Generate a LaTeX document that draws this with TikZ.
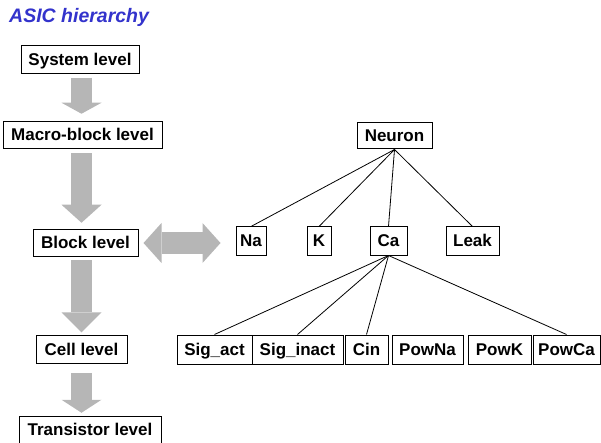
\documentclass[tikz,border=0pt]{standalone}
\usepackage{fontspec}
\setmainfont{Liberation Sans}
\usetikzlibrary{arrows.meta}
\definecolor{titleblue}{RGB}{51,51,204}
\definecolor{arrowgray}{RGB}{182,182,182}
\tikzstyle{box}=[draw
,line width=1pt
,inner sep=0pt
,text height=13.5pt
,text depth=2pt
,font=\fontsize{17}{20}\selectfont\bfseries
]
\tikzstyle{edge} = [draw,line width=0.8pt,-]
\tikzset{bigarrow/.style={draw=arrowgray, line width=21pt, -{Triangle[width=40pt,length=#1,line width=0pt]}}}
\tikzstyle{dblarrow} = [draw=arrowgray, line width=21pt, {Triangle[width=40pt,length=18pt,line width=0pt]}-{Triangle[width=40pt,length=18pt,line width=0pt]}]

\begin{document}
\begin{tikzpicture}[x=1pt,y=-1pt]
    \useasboundingbox (0,0) rectangle (601,443);
    % Title
    \node[anchor=base west, inner sep=0pt, text=titleblue, font=\fontsize{19.5}{23}\selectfont\bfseries\itshape] (title) at (9,23) {ASIC hierarchy};

    % The levels on the left
    \foreach \pos/\name/\w/\txt in {{(80,59.5)/System/118/System level}, {(82.5,135)/Macro/159/Macro-block level}, {(85.5,243)/Block/105/Block level}, {(81.5,349.5)/Cell/91/Cell level}, {(90,430)/Transistor/142/Transistor level}}
        \node[box, minimum width=\w pt, minimum height=27.5pt] (\name) at \pos {\txt};

    % The tree on the right
    \node[box, minimum width=75pt, minimum height=26pt] (Neuron) at (394.5,136) {Neuron};
    \foreach \pos/\name/\w in {{(251,241)/Na/30}, {(319,241)/K/24}, {(388.5,241)/Ca/37}, {(472.5,241)/Leak/53}}
        \node[box, minimum width=\w pt, minimum height=28pt] (\name) at \pos {\name};
    \foreach \pos/\name/\w/\txt in {{(214.5,349.5)/SigAct/75/Sig\_act}, {(297.5,349.5)/SigInact/91/Sig\_inact}, {(366.5,349.5)/Cin/43/Cin}, {(427.5,349.5)/PowNa/71/PowNa}, {(499.5,349.5)/PowK/63/PowK}, {(566.5,349.5)/PowCa/67/PowCa}}
        \node[box, minimum width=\w pt, minimum height=29pt] (\name) at \pos {\txt};

    % Connect the tree
    \foreach \source/ \dest in {Neuron/Na, Neuron/K, Neuron/Ca, Neuron/Leak, Ca/SigAct, Ca/SigInact, Ca/Cin, Ca/PowCa}
        \path[edge] (\source.south) -- (\dest.north);

    % Gray arrows between the levels
    \foreach \source/\dest/\len/\gapa/\gapb in {System/Macro/11/4/7, Macro/Block/18/4/6, Block/Cell/20/3/3, Cell/Transistor/13/9/3}
        \draw[bigarrow=\len pt, shorten <=\gapa pt, shorten >=\gapb pt] (\source.south -| Cell.center) -- (\dest.north -| Cell.center);
    \draw[dblarrow, shorten <=5pt, shorten >=15pt] (Block.east) -- (Block.east -| Na.west);
\end{tikzpicture}
\end{document}
